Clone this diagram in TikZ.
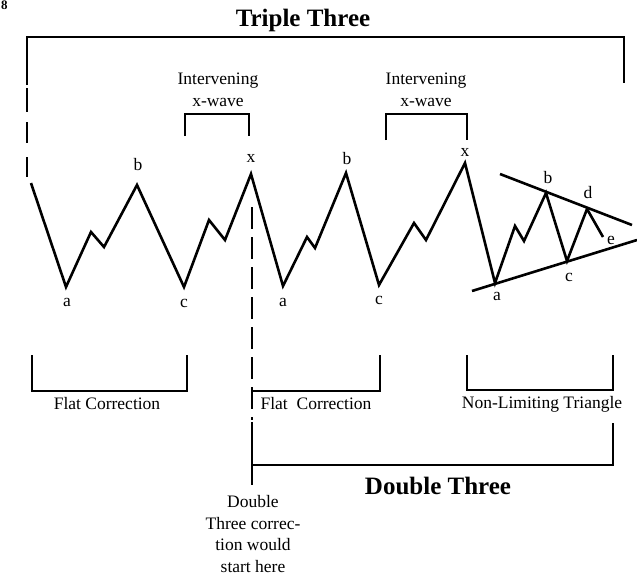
\documentclass[tikz,border=0pt]{standalone}
\usepackage{fontspec}
\setmainfont{Liberation Serif}
\begin{document}
\begin{tikzpicture}[x=1pt,y=-1pt,
  wave/.style={line width=2.6pt,line join=miter,line cap=butt},
  brk/.style={line width=1.6pt,line join=miter},
  lbl/.style={inner sep=0pt,font=\fontsize{17.5}{21}\selectfont},
  txt/.style={inner sep=0pt,align=center,font=\fontsize{17.5}{21.5}\selectfont},
  ttl/.style={inner sep=0pt,font=\fontsize{25}{28}\selectfont\bfseries}]
\useasboundingbox (0,0) rectangle (637,576);
% figure number
\node[inner sep=0pt,anchor=north west,font=\fontsize{13}{14}\selectfont\bfseries] (fig) at (1,1) {8};
% titles
\node[ttl] (tt) at (303,20) {Triple Three};
\node[ttl] (dt) at (438,486) {Double Three};
% Triple Three bracket
\draw[brk] (27,85) -- (27,37) -- (624,37) -- (624,83);
\draw[brk] (27,88) -- (27,112);
\draw[brk] (27,122) -- (27,143);
\draw[brk] (27,157) -- (27,177);
% intervening brackets
\node[txt] (iv1) at (218,90) {Intervening\\x-wave};
\node[txt] (iv2) at (426,90) {Intervening\\x-wave};
\draw[brk] (185,136) -- (185,114) -- (249,114) -- (249,136);
\draw[brk] (386,140) -- (386,114) -- (467,114) -- (467,140);
% wave points
\coordinate (w0) at (31,183);
\coordinate (a1) at (66,287);
\coordinate (p1) at (91,232);
\coordinate (p2) at (104,247);
\coordinate (b1) at (137,185);
\coordinate (c1) at (184,287);
\coordinate (p3) at (209,220);
\coordinate (p4) at (225,240);
\coordinate (x1) at (251,174);
\coordinate (a2) at (283,286);
\coordinate (p5) at (307,237);
\coordinate (p6) at (315,248);
\coordinate (b2) at (346,173);
\coordinate (c2) at (379,285);
\coordinate (p7) at (414,223);
\coordinate (p8) at (426,240);
\coordinate (x2) at (465,163);
\coordinate (a3) at (495,283);
\coordinate (p9) at (515,226);
\coordinate (p10) at (524,241);
\coordinate (b3) at (546,193);
\coordinate (c3) at (567,261);
\coordinate (d3) at (587,209);
\coordinate (e3) at (603,237);
\draw[wave] (w0) -- (a1) -- (p1) -- (p2) -- (b1) -- (c1) -- (p3) -- (p4) -- (x1)
  -- (a2) -- (p5) -- (p6) -- (b2) -- (c2) -- (p7) -- (p8) -- (x2)
  -- (a3) -- (p9) -- (p10) -- (b3) -- (c3) -- (d3) -- (e3);
% triangle boundary lines
\coordinate (tu1) at (500,174);
\coordinate (tu2) at (632,225);
\coordinate (tl1) at (472,291);
\coordinate (tl2) at (637,240);
\draw[wave] (tu1) -- (tu2);
\draw[wave] (tl1) -- (tl2);
% labels
\node[lbl] (la1) at (67,302) {a};
\node[lbl] (lb1) at (138,165) {b};
\node[lbl] (lc1) at (184,303) {c};
\node[lbl] (lx1) at (251,158) {x};
\node[lbl] (la2) at (283,302) {a};
\node[lbl] (lb2) at (347,159) {b};
\node[lbl] (lc2) at (379,300) {c};
\node[lbl] (lx2) at (465,152) {x};
\node[lbl] (la3) at (497,296) {a};
\node[lbl] (lb3) at (548,178) {b};
\node[lbl] (lc3) at (569,277) {c};
\node[lbl] (ld3) at (588,193) {d};
\node[lbl] (le3) at (611,240) {e};
% vertical divider
\draw[brk,dash pattern=on 22pt off 8pt] (252,207) -- (252,420);
\draw[brk] (252,422) -- (252,485);
% bottom brackets
\draw[brk] (32,355) -- (32,391) -- (187,391) -- (187,355);
\draw[brk] (252,391) -- (380,391) -- (380,355);
\draw[brk] (467,355) -- (467,390) -- (613,390) -- (613,355);
\draw[brk] (613,423) -- (613,465) -- (252,465);
\node[txt] (fc1) at (107,404) {Flat Correction};
\node[txt] (fc2) at (316,404) {Flat\ \ Correction};
\node[txt] (nlt) at (542,404) {Non-Limiting Triangle};
\node[txt] (note) at (253,534) {Double\\Three correc-\\tion would\\start here};
\end{tikzpicture}
\end{document}
